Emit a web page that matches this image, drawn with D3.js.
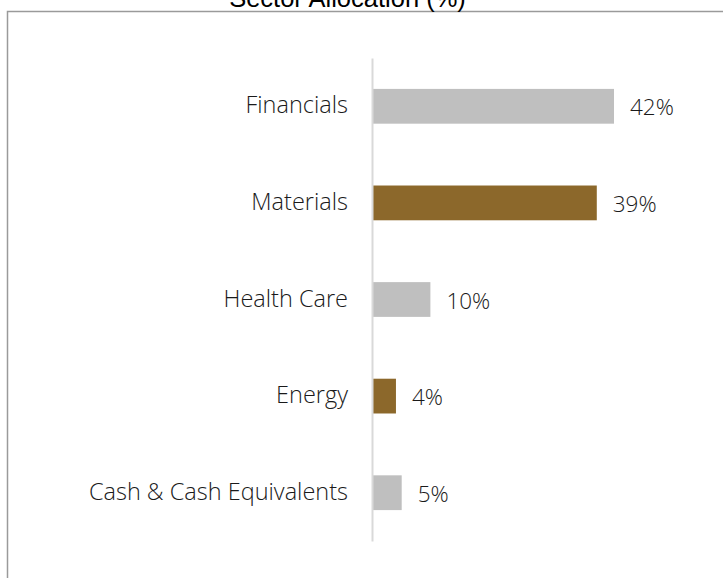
<!DOCTYPE html>
<html>
<head>
<meta charset="utf-8">
<script src="https://cdn.jsdelivr.net/npm/d3@7"></script>
<style>
  html, body { margin: 0; padding: 0; background: #fff; }
  svg { display: block; }
</style>
</head>
<body>
<svg id="chart" width="723" height="578"></svg>
<script>
const title = "Sector Allocation (%)";
const categories = ["Financials", "Materials", "Health Care", "Energy", "Cash & Cash Equivalents"];
const values = [42, 39, 10, 4, 5];
const barColors = ["#bfbfbf", "#8c682b", "#bfbfbf", "#8c682b", "#bfbfbf"];

const svg = d3.select("#chart");

// frame
svg.append("rect")
  .attr("x", 7.5).attr("y", 11.5)
  .attr("width", 730).attr("height", 600)
  .attr("fill", "none").attr("stroke", "#9a9a9a").attr("stroke-width", 1.5);

// title (partially cut off at top, as in the reference)
svg.append("text")
  .attr("x", 347.5).attr("y", 6.5)
  .attr("text-anchor", "middle")
  .attr("font-family", "'Liberation Sans', Arial, sans-serif")
  .attr("font-size", 25.5)
  .attr("fill", "#000")
  .text(title);

const x0 = 373;
const x = d3.scaleLinear().domain([0, 42]).range([x0, 614]);
const y = d3.scaleBand().domain(categories).range([58, 541]).paddingInner(0.64).paddingOuter(0.32);

// bars
svg.append("g").selectAll("rect")
  .data(categories)
  .join("rect")
  .attr("x", x(0))
  .attr("y", d => y(d))
  .attr("width", (d, i) => x(values[i]) - x(0))
  .attr("height", y.bandwidth())
  .attr("fill", (d, i) => barColors[i]);

// axis
const axis = d3.axisLeft(y).tickSize(0).tickPadding(24);
const gAxis = svg.append("g").attr("transform", `translate(${x0 - 1},0)`).call(axis);
gAxis.select(".domain").attr("stroke", "#d9d9d9").attr("stroke-width", 2);
gAxis.selectAll(".tick text")
  .attr("font-family", "'Segoe UI Light', 'Open Sans', sans-serif")
  .attr("font-weight", 300)
  .attr("font-size", 23.5)
  .attr("fill", "#1a1a1a")
  .attr("dy", "0.3em");

// value labels
svg.append("g").selectAll("text")
  .data(categories)
  .join("text")
  .attr("x", (d, i) => x(values[i]) + 16)
  .attr("y", d => y(d) + y.bandwidth() / 2)
  .attr("dy", "0.4em")
  .attr("font-family", "'Segoe UI Light', 'Open Sans', sans-serif")
  .attr("font-weight", 300)
  .attr("font-size", 22.5)
  .attr("fill", "#1a1a1a")
  .text((d, i) => values[i] + "%");
</script>
</body>
</html>
